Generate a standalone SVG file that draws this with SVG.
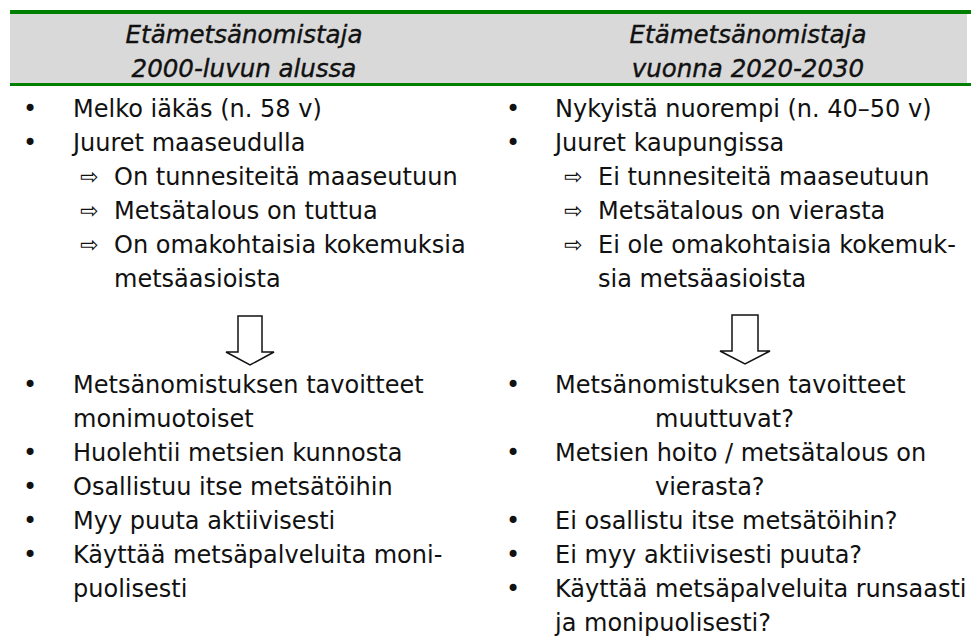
<svg xmlns="http://www.w3.org/2000/svg" width="971" height="638" viewBox="0 0 971 638">
<style>
.hd{font-family:"DejaVu Sans","Liberation Sans",sans-serif;font-size:24.5px;font-style:italic;fill:#111;stroke:#111;stroke-width:0.4;text-anchor:middle}
.tx{font-family:"DejaVu Sans","Liberation Sans",sans-serif;font-size:24px;fill:#111}
.bu{font-family:"DejaVu Sans","Liberation Sans",sans-serif;font-size:24px;fill:#111;text-anchor:middle}
.ar{font-family:"DejaVu Sans","Liberation Sans",sans-serif;font-size:22px;fill:#111}
.down{fill:#fff;stroke:#111;stroke-width:1.5;stroke-linejoin:miter}
</style>
<rect x="0" y="0" width="971" height="638" fill="#fff"/>
<g id="header">
  <rect x="10" y="14" width="957" height="70" fill="#d9d9d9"/>
  <rect x="10" y="10" width="961" height="4" fill="#008000"/>
  <rect x="10" y="83" width="961" height="3" fill="#008000"/>
  <text class="hd" x="244" y="43">Etämetsänomistaja</text>
  <text class="hd" x="244" y="77">2000-luvun alussa</text>
  <text class="hd" x="748" y="43">Etämetsänomistaja</text>
  <text class="hd" x="748" y="77">vuonna 2020-2030</text>
</g>
<g id="left-top">
  <text class="bu" x="30" y="117">•</text><text class="tx" x="73" y="117">Melko iäkäs (n. 58 v)</text>
  <text class="bu" x="30" y="151">•</text><text class="tx" x="73" y="151">Juuret maaseudulla</text>
  <text class="ar" x="80" y="184">⇨</text><text class="tx" x="114" y="185">On tunnesiteitä maaseutuun</text>
  <text class="ar" x="80" y="218">⇨</text><text class="tx" x="114" y="219">Metsätalous on tuttua</text>
  <text class="ar" x="80" y="252">⇨</text><text class="tx" x="114" y="253">On omakohtaisia kokemuksia</text>
  <text class="tx" x="114" y="287">metsäasioista</text>
</g>
<g id="right-top">
  <text class="bu" x="513" y="117">•</text><text class="tx" x="555" y="117">Nykyistä nuorempi (n. 40–50 v)</text>
  <text class="bu" x="513" y="151">•</text><text class="tx" x="555" y="151">Juuret kaupungissa</text>
  <text class="ar" x="564" y="184">⇨</text><text class="tx" x="598" y="185">Ei tunnesiteitä maaseutuun</text>
  <text class="ar" x="564" y="218">⇨</text><text class="tx" x="598" y="219">Metsätalous on vierasta</text>
  <text class="ar" x="564" y="252">⇨</text><text class="tx" x="598" y="253">Ei ole omakohtaisia kokemuk-</text>
  <text class="tx" x="598" y="287">sia metsäasioista</text>
</g>
<g id="connectors">
  <path class="down" d="M238,316 H262 V352 H274 L250,365 L226,352 H238 Z"/>
  <path class="down" d="M732,315 H758 V351 H770 L745,364 L720,351 H732 Z"/>
</g>
<g id="left-bottom">
  <text class="bu" x="30" y="393">•</text><text class="tx" x="73" y="393">Metsänomistuksen tavoitteet</text>
  <text class="tx" x="73" y="427">monimuotoiset</text>
  <text class="bu" x="30" y="461">•</text><text class="tx" x="73" y="461">Huolehtii metsien kunnosta</text>
  <text class="bu" x="30" y="495">•</text><text class="tx" x="73" y="495">Osallistuu itse metsätöihin</text>
  <text class="bu" x="30" y="529">•</text><text class="tx" x="73" y="529">Myy puuta aktiivisesti</text>
  <text class="bu" x="30" y="563">•</text><text class="tx" x="73" y="563">Käyttää metsäpalveluita moni-</text>
  <text class="tx" x="73" y="597">puolisesti</text>
</g>
<g id="right-bottom">
  <text class="bu" x="513" y="393">•</text><text class="tx" x="555" y="393">Metsänomistuksen tavoitteet</text>
  <text class="tx" x="655" y="427">muuttuvat?</text>
  <text class="bu" x="513" y="461">•</text><text class="tx" x="555" y="461">Metsien hoito / metsätalous on</text>
  <text class="tx" x="655" y="495">vierasta?</text>
  <text class="bu" x="513" y="529">•</text><text class="tx" x="555" y="529">Ei osallistu itse metsätöihin?</text>
  <text class="bu" x="513" y="563">•</text><text class="tx" x="555" y="563">Ei myy aktiivisesti puuta?</text>
  <text class="bu" x="513" y="597">•</text><text class="tx" x="555" y="597">Käyttää metsäpalveluita runsaasti</text>
  <text class="tx" x="555" y="631">ja monipuolisesti?</text>
</g>
</svg>
